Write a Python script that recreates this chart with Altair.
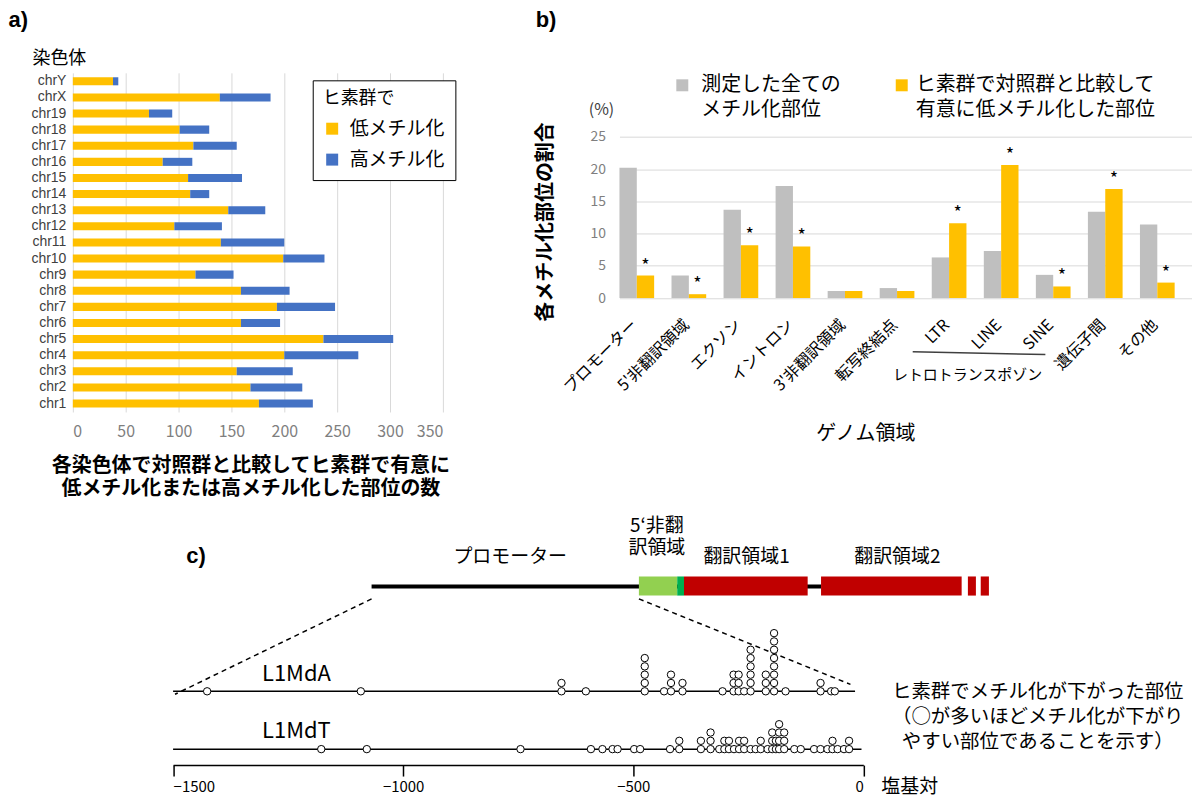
import altair as alt
import pandas as pd

JP = "Noto Sans CJK JP"
LAT = "Liberation Sans"
NOTE_DF = pd.DataFrame({"k": [0]})

# ---------------- a) data ----------------
chromosomes = ["chr1", "chr2", "chr3", "chr4", "chr5", "chr6", "chr7", "chr8", "chr9", "chr10",
               "chr11", "chr12", "chr13", "chr14", "chr15", "chr16", "chr17", "chr18", "chr19",
               "chrX", "chrY"]
hypo_counts = [176, 168, 155, 200, 237, 159, 193, 159, 116, 199, 140, 96, 147, 111, 109, 85, 114,
               101, 72, 139, 38]
hyper_counts = [51, 49, 53, 70, 66, 37, 55, 46, 36, 39, 60, 45, 35, 18, 51, 28, 41, 28, 22, 48, 5]
a_series = ["低メチル化", "高メチル化"]
a_colors = ["#FFC000", "#4472C4"]
a_ticks = [0, 50, 100, 150, 200, 250, 300, 350]

# ---------------- b) data ----------------
regions = ["プロモーター", "5'非翻訳領域", "エクソン", "イントロン", "3'非翻訳領域", "転写終結点",
           "LTR", "LINE", "SINE", "遺伝子間", "その他"]
all_sites_pct = [20.2, 3.5, 13.7, 17.4, 1.1, 1.55, 6.3, 7.3, 3.6, 13.4, 11.4]
hypo_sites_pct = [3.5, 0.6, 8.2, 8.0, 1.1, 1.1, 11.6, 20.65, 1.8, 16.9, 2.4]
significant = ["*", "*", "*", "*", "", "", "*", "*", "*", "*", "*"]
b_series = ["all", "hypo", "gap"]
b_colors = ["#BFBFBF", "#FFC000"]
b_ticks = [0, 5, 10, 15, 20, 25]
b_legend_lines = [["測定した全ての", "メチル化部位"], ["ヒ素群で対照群と比較して", "有意に低メチル化した部位"]]

# ---------------- c) data ----------------
l1mda_pos = [-1426, -1092, -656, -603, -475, -433, -418, -393, -306, -282, -271, -259, -245,
             -212, -194, -169, -93, -70, -62]
l1mda_cnt = [1, 1, 2, 1, 5, 1, 3, 2, 1, 3, 3, 1, 6, 3, 8, 1, 2, 1, 1]
l1mdt_pos = [-1178, -1079, -745, -592, -567, -545, -534, -498, -485, -420, -400, -353, -332,
             -313, -302, -292, -281, -270, -259, -245, -234, -223, -208, -198, -190, -183, -172,
             -150, -136, -107, -93, -78, -67, -56, -42, -31]
l1mdt_cnt = [1, 1, 1, 1, 1, 1, 1, 1, 1, 1, 2, 2, 3, 1, 2, 2, 1, 2, 2, 1, 1, 2, 1, 3, 2, 4, 3,
             1, 1, 1, 1, 1, 2, 1, 1, 2]
families = ["L1MdA", "L1MdT"]
family_base_level = [8.88, 1.92]
family_line_end = [-18, -4]
family_label_level = [11.0, 4.14]
family_label_pos = [-1232, -1232]
bp_ticks = [-1500, -1000, -500, 0]

# gene schematic (schematic units; promoter = -1500..0)
gene_line = [-1500, 1022]
gene_level = 21.5
gene_box_low, gene_box_high = 20.4, 22.7
gene_block_start = [0, 215, 253, 1022, 1846, 1918]
gene_block_end = [215, 253, 947, 1811, 1891, 1964]
gene_block_kind = ["utr", "utr_end", "orf1", "orf2", "orf2b", "orf2c"]
gene_kind_colors = ["#92D050", "#00B050", "#C00000", "#C00000", "#C00000", "#C00000"]
gene_labels = ["プロモーター", "5‘非翻", "訳領域", "翻訳領域1", "翻訳領域2"]
gene_label_pos = [-722, 101, 101, 604, 1450]
gene_label_level = [25.03, 28.75, 26.1, 25.03, 25.03]
guide_from = [-1500, 0]
guide_to = [-2603, 1187]
guide_from_level = [20.0, 20.0]
guide_to_level = [8.52, 9.72]
note_lines = ["ヒ素群でメチル化が下がった部位", "（○が多いほどメチル化が下がり", "やすい部位であることを示す）"]
note_pos = [379, 379, 379]
note_level = [8.82, 5.82, 2.82]


def note(text, x, y, size=16, color="black", font=JP, weight="normal", align="center",
         baseline="middle", angle=0, line_height=None):
    kw = dict(font=font, fontSize=size, color=color, fontWeight=weight, align=align,
              baseline=baseline)
    if angle:
        kw["angle"] = angle
    if line_height:
        kw["lineHeight"] = line_height
    return alt.Chart(NOTE_DF).mark_text(**kw).encode(
        x=alt.value(x), y=alt.value(y), text=alt.value(text))


def square(x, y, color, size=144):
    return alt.Chart(NOTE_DF).mark_point(shape="square", filled=True, size=size, color=color,
                                         opacity=1).encode(x=alt.value(x), y=alt.value(y))


# ================= panel a =================
rows = []
for c, lo, hi in zip(chromosomes, hypo_counts, hyper_counts):
    rows.append({"chrom": c, "type": a_series[0], "count": lo, "ord": 0})
    rows.append({"chrom": c, "type": a_series[1], "count": hi, "ord": 1})
df_a = pd.DataFrame(rows)

A_W, A_H = 371, 340
bars_a = alt.Chart(df_a).mark_bar().encode(
    y=alt.Y("chrom:N", sort=chromosomes[::-1],
            scale=alt.Scale(paddingInner=0.5, paddingOuter=0.275),
            axis=alt.Axis(title=None, labelFont=LAT, labelFontSize=14, labelColor="#404040",
                          ticks=False, domain=False, labelPadding=7)),
    x=alt.X("count:Q", stack="zero", scale=alt.Scale(domain=[0, 350], nice=False),
            axis=alt.Axis(title=None, values=a_ticks, grid=True, gridColor="#D9D9D9",
                          domain=False, ticks=False, tickSize=0, labelFont=JP,
                          labelFontSize=16, labelColor="#7F7F7F", labelPadding=12)),
    color=alt.Color("type:N", scale=alt.Scale(domain=a_series, range=a_colors),
                    legend=alt.Legend(title="ヒ素群で", orient="none", legendX=240.5,
                                      legendY=7.5, padding=10, strokeColor="black",
                                      fillColor="white", titleFont=JP, titleFontSize=18,
                                      titleFontWeight="normal", titleColor="black",
                                      titlePadding=11, labelFont=JP, labelFontSize=19,
                                      labelColor="black", symbolType="square",
                                      symbolSize=144, symbolStrokeWidth=0, labelOffset=8,
                                      rowPadding=11)),
    order=alt.Order("ord:Q"),
)
panel_a = alt.layer(
    bars_a,
    note("a)", -64.5, -62.5, size=22, font=LAT, weight="bold", align="left", baseline="top"),
    note("染色体", -40.5, -13.5, size=18, align="left"),
    note(["各染色体で対照群と比較してヒ素群で有意に", "低メチル化または高メチル化した部位の数"],
         178.5, 384, size=20, weight="bold", baseline="top", line_height=23),
).properties(width=A_W, height=A_H)

# ================= panel b =================
rows = []
for r, a, h, s in zip(regions, all_sites_pct, hypo_sites_pct, significant):
    rows.append({"region": r, "series": "all", "value": a, "star": ""})
    rows.append({"region": r, "series": "hypo", "value": h, "star": s})
df_b = pd.DataFrame(rows)

B_W, B_H = 574, 225.8
xb = alt.X("region:N", sort=regions,
           scale=alt.Scale(paddingInner=0, paddingOuter=0),
           axis=alt.Axis(title=None, labelAngle=-45, labelAlign="right", labelBaseline="middle",
                         labelFont=JP, labelFontSize=16, labelColor="black", labelPadding=24,
                         labelOffset=-11, ticks=False, domain=False, grid=False,
                         labelOverlap=False))
xo = alt.XOffset("series:N", scale=alt.Scale(domain=b_series, paddingInner=0, paddingOuter=0))
yb = alt.Y("value:Q", scale=alt.Scale(domain=[0, 25], range=[225.8, 64.2], nice=False),
           axis=alt.Axis(title=None, values=b_ticks, grid=True, gridColor="#D9D9D9",
                         domain=False, ticks=False, labelFont=JP, labelFontSize=14,
                         labelColor="#7F7F7F", labelPadding=14))
bars_b = alt.Chart(df_b).mark_bar().encode(
    x=xb, xOffset=xo, y=yb,
    color=alt.Color("series:N", scale=alt.Scale(domain=["all", "hypo"], range=b_colors),
                    legend=None))
stars_b = alt.Chart(df_b).transform_filter("datum.series == 'hypo'").mark_text(
    font=JP, fontSize=18, color="black", baseline="alphabetic", dy=-4).encode(
    x=xb, xOffset=xo, y=yb, text="star:N")

panel_b = alt.layer(
    bars_b, stars_b,
    note("b)", -84, -62.5, size=22, font=LAT, weight="bold", align="left", baseline="top"),
    note("各メチル化部位の割合", -74, 149.5, size=20, weight="bold", angle=270),
    note("(%)", -18, 37.5, size=16, color="#404040"),
    square(63, 12.5, b_colors[0]),
    note(b_legend_lines[0], 82, 2.5, size=20, align="left", baseline="top", line_height=25),
    square(283, 12.5, b_colors[1]),
    note(b_legend_lines[1], 297, 2.5, size=20, align="left", baseline="top", line_height=25),
    alt.Chart(NOTE_DF).mark_rule(color="#404040", strokeWidth=1.5).encode(
        x=alt.value(294), x2=alt.value(427), y=alt.value(279.5), y2=alt.value(282.5)),
    note("レトロトランスポゾン", 349, 302.5, size=15),
    note("ゲノム領域", 247, 362.5, size=20),
).properties(width=B_W, height=B_H)

# ================= panel c =================
C_H = 255
DOT = dict(domain=[-1500, 0], range=[100.5, 792.5], nice=False, zero=False)
GENE = dict(domain=[-1500, 0], range=[299.5, 567.5], nice=False, zero=False)
LEV = alt.Scale(domain=[0, C_H / 8.33], nice=False, zero=False)

dot_rows = []
for fam, pos, cnt, base in [("L1MdA", l1mda_pos, l1mda_cnt, family_base_level[0]),
                            ("L1MdT", l1mdt_pos, l1mdt_cnt, family_base_level[1])]:
    for p, n in zip(pos, cnt):
        for k in range(n):
            dot_rows.append({"family": fam, "pos": p, "level": base + k})
df_dots = pd.DataFrame(dot_rows)

df_fam = pd.DataFrame({"family": families, "start": [-1500, -1500], "end": family_line_end,
                       "level": family_base_level, "lpos": family_label_pos,
                       "llevel": family_label_level})
df_gene_line = pd.DataFrame({"start": [gene_line[0]], "end": [gene_line[1]],
                             "level": [gene_level]})
df_blocks = pd.DataFrame({"start": gene_block_start, "end": gene_block_end,
                          "kind": gene_block_kind, "lo": gene_box_low, "hi": gene_box_high})
df_glabels = pd.DataFrame({"text": gene_labels, "pos": gene_label_pos,
                           "level": gene_label_level})
df_guides = pd.DataFrame({"x1": guide_from, "x2": guide_to, "y1": guide_from_level,
                          "y2": guide_to_level})
df_notes = pd.DataFrame({"text": note_lines, "pos": note_pos, "level": note_level})
df_unit = pd.DataFrame({"text": ["塩基対"], "pos": [39], "level": [-2.64]})


def gx(field):
    return alt.X(field, type="quantitative", scale=alt.Scale(**GENE), axis=None)


def dx(field, axis=None):
    return alt.X(field, type="quantitative", scale=alt.Scale(**DOT), axis=axis)


def ly(field):
    return alt.Y(field, type="quantitative", scale=LEV, axis=None)


gene_line_l = alt.Chart(df_gene_line).mark_rule(color="black", strokeWidth=4).encode(
    x=gx("start"), x2="end", y=ly("level"))
gene_blocks_l = alt.Chart(df_blocks).mark_rect().encode(
    x=gx("start"), x2="end", y=ly("lo"), y2="hi",
    color=alt.Color("kind:N", scale=alt.Scale(domain=gene_block_kind, range=gene_kind_colors),
                    legend=None))
gene_labels_l = alt.Chart(df_glabels).mark_text(font=JP, fontSize=19, color="black").encode(
    x=gx("pos"), y=ly("level"), text="text:N")
guides_l = alt.Chart(df_guides).mark_rule(color="black", strokeWidth=1.5,
                                          strokeDash=[5, 4]).encode(
    x=gx("x1"), x2="x2", y=ly("y1"), y2="y2")
fam_lines_l = alt.Chart(df_fam).mark_rule(color="black", strokeWidth=1.5).encode(
    x=dx("start"), x2="end", y=ly("level"))
fam_labels_l = alt.Chart(df_fam).mark_text(font=JP, fontSize=22, color="black").encode(
    x=dx("lpos"), y=ly("llevel"), text="family:N")
dots_l = alt.Chart(df_dots).mark_point(shape="circle", filled=True, fill="white",
                                       stroke="black", strokeWidth=1, size=55,
                                       opacity=1).encode(
    x=dx("pos", axis=alt.Axis(values=bp_ticks, title=None, format="d", grid=False,
                              domainColor="black", domainWidth=1.5, tickColor="black",
                              tickSize=11, tickWidth=1.5, labelFont=JP, labelFontSize=15,
                              labelColor="black", labelPadding=3)),
    y=ly("level"))
notes_l = alt.Chart(df_notes).mark_text(font=JP, fontSize=19.5, color="black").encode(
    x=dx("pos"), y=ly("level"), text="text:N")
unit_l = alt.Chart(df_unit).mark_text(font=JP, fontSize=19, color="black",
                                      align="left").encode(
    x=dx("pos"), y=ly("level"), text="text:N")

panel_c = alt.layer(
    gene_line_l, gene_blocks_l, gene_labels_l, guides_l, fam_lines_l, fam_labels_l, dots_l,
    notes_l, unit_l,
    note("c)", 123.5, 45.5, size=22, font=LAT, weight="bold"),
).resolve_scale(x="independent").properties(width=1115, height=C_H)

chart = alt.vconcat(
    alt.hconcat(panel_a, panel_b, spacing=80).resolve_scale(color="independent"),
    panel_c,
    spacing=12,
).resolve_scale(color="independent").properties(padding=0).configure_view(stroke=None)

chart.save("out.html", embed_options={"renderer": "svg", "actions": False})
